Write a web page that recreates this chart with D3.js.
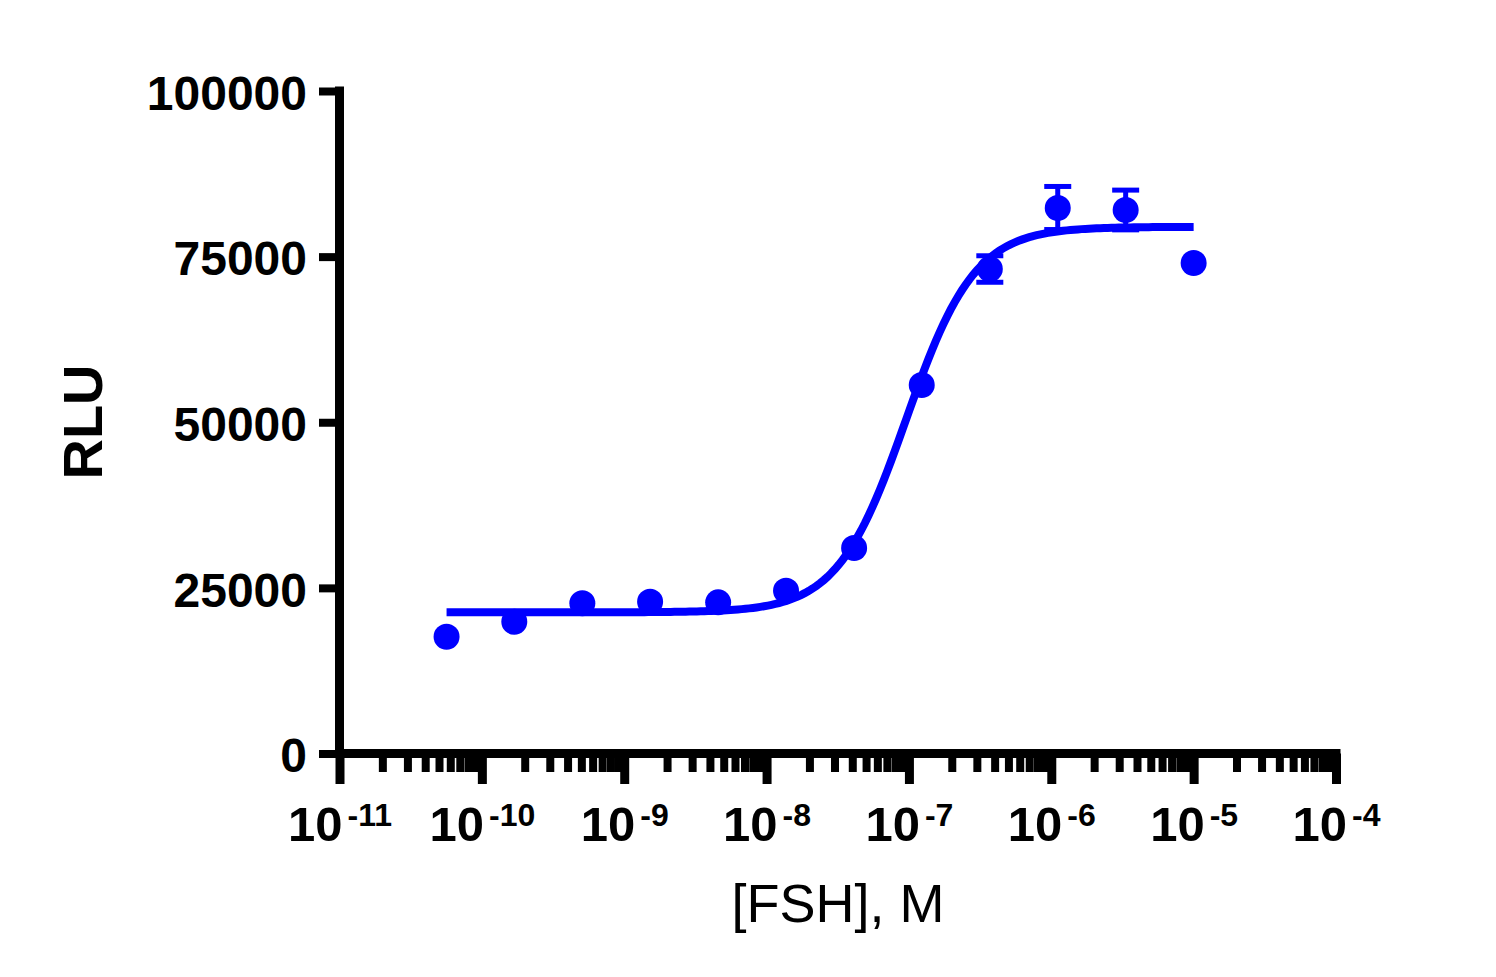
<!DOCTYPE html>
<html>
<head>
<meta charset="utf-8">
<script src="https://cdn.jsdelivr.net/npm/d3@7"></script>
<style>
  body { margin: 0; background: #fff; }
  text { font-family: "Liberation Sans", Arial, Helvetica, sans-serif; }
</style>
</head>
<body>
<div id="chart"></div>
<script>
// data
var conc = [5.65e-11, 1.69e-10, 5.08e-10, 1.52e-9, 4.57e-9, 1.37e-8,
            4.12e-8, 1.23e-7, 3.70e-7, 1.11e-6, 3.33e-6, 1.0e-5];
var rlu  = [17630, 19890, 22670, 22910, 22820, 24570,
            31020, 55620, 73130, 82340, 82040, 74040];
var sd   = [400, 400, 400, 400, 400, 500, 600, 700, 2000, 3250, 3000, 500];

// fitted 4PL curve parameters
var fitBottom = 21310, fitTop = 79500, fitLogEC50 = -7.02, fitHill = 1.8;

var xTickExp = [-11, -10, -9, -8, -7, -6, -5, -4];
var yTicks = [0, 25000, 50000, 75000, 100000];

var blue = '#0000ff';

var W = 1496, H = 977;
var x = d3.scaleLog().domain([1e-11, 1e-4]).range([339.5, 1336]);
var y = d3.scaleLinear().domain([0, 100000]).range([753.5, 91]);

var svg = d3.select('#chart').append('svg')
    .attr('width', W).attr('height', H);

svg.append('rect').attr('width', W).attr('height', H).attr('fill', '#fff');

// minor ticks
var minor = [];
xTickExp.slice(0, -1).forEach(function(e){
  for (var k = 2; k < 10; k++) minor.push(k * Math.pow(10, e));
});

svg.append('g')
    .attr('transform', 'translate(0,' + y(0) + ')')
    .call(d3.axisBottom(x).tickValues(minor).tickSize(18.5).tickFormat(''))
    .call(function(g){ g.select('.domain').remove(); })
    .selectAll('line').attr('stroke', '#000').attr('stroke-width', 8);

// major ticks
var xMajor = svg.append('g')
    .attr('transform', 'translate(0,' + y(0) + ')')
    .call(d3.axisBottom(x).tickValues(xTickExp.map(function(e){ return Math.pow(10, e); }))
      .tickSize(30.5).tickFormat(''));
xMajor.select('.domain').remove();
xMajor.selectAll('line').attr('stroke', '#000').attr('stroke-width', 9);

// x tick labels 10^n
xMajor.selectAll('.tick').each(function(d){
  var e = Math.round(Math.log10(d));
  var t = d3.select(this).append('text')
      .attr('y', 87)
      .attr('fill', '#000')
      .attr('font-weight', 'bold')
      .attr('font-size', 49)
      .attr('text-anchor', 'middle');
  t.append('tspan').text('10');
  t.append('tspan').attr('dx', 5).attr('dy', -15).attr('font-size', 32).text(String(e));
});

// y axis
var yAx = svg.append('g')
    .attr('transform', 'translate(' + x(1e-11) + ',0)')
    .call(d3.axisLeft(y).tickValues(yTicks).tickSize(20.5).tickPadding(12).tickFormat(d3.format('d')));
yAx.select('.domain').remove();
yAx.selectAll('line').attr('stroke', '#000').attr('stroke-width', 8);
yAx.selectAll('text')
    .attr('fill', '#000')
    .attr('font-weight', 'bold')
    .attr('font-size', 48)
    .attr('dy', '0.38em');

// axis lines
svg.append('line')
    .attr('x1', x(1e-11)).attr('x2', x(1e-11))
    .attr('y1', y(100000)).attr('y2', y(0))
    .attr('stroke', '#000').attr('stroke-width', 9).attr('stroke-linecap', 'square');
svg.append('line')
    .attr('x1', x(1e-11)).attr('x2', x(1e-4))
    .attr('y1', y(0)).attr('y2', y(0))
    .attr('stroke', '#000').attr('stroke-width', 9).attr('stroke-linecap', 'square');

// axis titles
svg.append('text')
    .attr('x', 838).attr('y', 922)
    .attr('text-anchor', 'middle')
    .attr('font-size', 54)
    .attr('fill', '#000')
    .text('[FSH], M');

svg.append('text')
    .attr('transform', 'translate(102,422) rotate(-90)')
    .attr('text-anchor', 'middle')
    .attr('font-size', 56)
    .attr('font-weight', 'bold')
    .attr('fill', '#000')
    .text('RLU');

// fitted curve
var lo = Math.log10(conc[0]), hi = Math.log10(conc[conc.length - 1]);
var curve = d3.range(0, 201).map(function(i){
  var lx = lo + (hi - lo) * i / 200;
  var v = fitBottom + (fitTop - fitBottom) / (1 + Math.pow(10, (fitLogEC50 - lx) * fitHill));
  return [Math.pow(10, lx), v];
});

svg.append('path')
    .datum(curve)
    .attr('fill', 'none')
    .attr('stroke', blue)
    .attr('stroke-width', 8)
    .attr('d', d3.line().x(function(d){ return x(d[0]); }).y(function(d){ return y(d[1]); }));

// error bars (only where longer than the symbol)
var r = 13;
var pts = conc.map(function(c, i){ return {c: c, v: rlu[i], e: sd[i]}; });
var eb = svg.selectAll('.eb')
    .data(pts.filter(function(d){ return y(d.v) - y(d.v + d.e) > r; }))
    .enter().append('g').attr('class', 'eb');
eb.append('line')
    .attr('x1', function(d){ return x(d.c); }).attr('x2', function(d){ return x(d.c); })
    .attr('y1', function(d){ return y(d.v + d.e); }).attr('y2', function(d){ return y(d.v - d.e); })
    .attr('stroke', blue).attr('stroke-width', 5);
[1, -1].forEach(function(s){
  eb.append('line')
      .attr('x1', function(d){ return x(d.c) - 13.5; }).attr('x2', function(d){ return x(d.c) + 13.5; })
      .attr('y1', function(d){ return y(d.v + s * d.e); }).attr('y2', function(d){ return y(d.v + s * d.e); })
      .attr('stroke', blue).attr('stroke-width', 5);
});

// points
svg.selectAll('.dot')
    .data(pts)
    .enter().append('circle')
    .attr('class', 'dot')
    .attr('cx', function(d){ return x(d.c); })
    .attr('cy', function(d){ return y(d.v); })
    .attr('r', r)
    .attr('fill', blue);
</script>
</body>
</html>
